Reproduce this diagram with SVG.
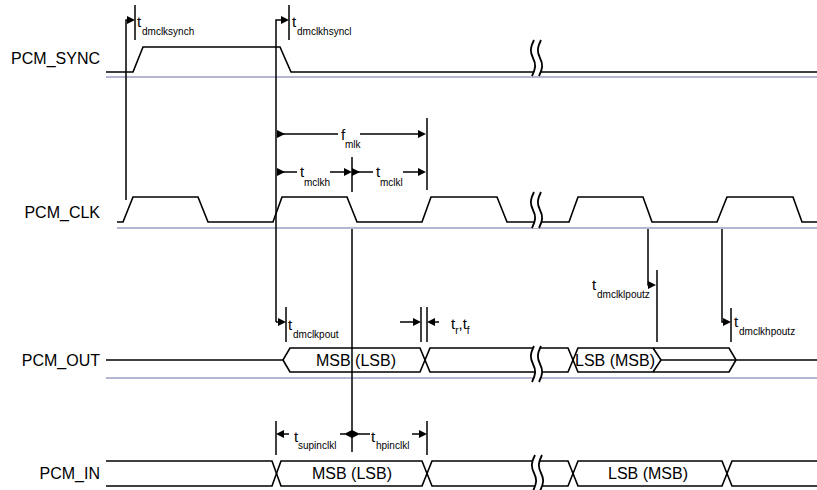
<svg xmlns="http://www.w3.org/2000/svg" xmlns:xlink="http://www.w3.org/1999/xlink" width="817" height="490" viewBox="0 0 817 490">
<style>
.sig{fill:none;stroke:#000;stroke-width:1.6;stroke-linejoin:miter}
.base{fill:none;stroke:#9c9cc6;stroke-width:1.5}
.ln{fill:none;stroke:#000;stroke-width:1.5}
.ah{fill:#000;stroke:none}
.lbl{font-family:"Liberation Sans",Arial,sans-serif;font-size:16px;fill:#000}
.t{font-family:"Liberation Sans",Arial,sans-serif;font-size:15px;fill:#000}
.s{font-family:"Liberation Sans",Arial,sans-serif;font-size:10px;fill:#000}
.bus{font-family:"Liberation Sans",Arial,sans-serif;font-size:16px;fill:#000;text-anchor:middle}
.bw{fill:#fff;stroke:none}
.bc{fill:none;stroke:#000;stroke-width:1.8}
</style>
<defs>
<g id="brk">
<path class="bw" d="M3,0 C-1,8 -1,12 2,18 C5,24 5,28 1,36 L8,36 C12,28 12,24 9,18 C6,12 6,8 10,0 Z"/>
<path class="bc" d="M3,0 C-1,8 -1,12 2,18 C5,24 5,28 1,36"/>
<path class="bc" d="M10,0 C6,8 6,12 9,18 C12,24 12,28 8,36"/>
</g>
</defs>

<g id="pcm_sync">
<text class="lbl" x="100" y="64" text-anchor="end">PCM_SYNC</text>
<line class="base" x1="106" y1="77" x2="817" y2="77"/>
<path class="sig" d="M106,72 H133 L143,47 H280 L291,72 H817"/>
<use xlink:href="#brk" href="#brk" x="531" y="40"/>
</g>

<g id="pcm_clk">
<text class="lbl" x="100" y="218" text-anchor="end">PCM_CLK</text>
<line class="base" x1="117" y1="228" x2="817" y2="228"/>
<path class="sig" d="M117,222 H123 L133,197 H198 L208,222 H273 L282,197 H347 L357,222 H422 L431,197 H497 L507,222 H569 L578,197 H643 L652,222 H717 L727,197 H793 L802,222 H817"/>
<use xlink:href="#brk" href="#brk" x="531" y="192"/>
</g>

<g id="pcm_out">
<text class="lbl" x="100" y="366" text-anchor="end">PCM_OUT</text>
<line class="base" x1="106" y1="378" x2="817" y2="378"/>
<path class="sig" d="M106,360 H283 L290,348 H420 L430,372 H568 L578,348 H729 L736,360 H817"/>
<path class="sig" d="M283,360 L290,372 H420 L430,348 H568 L578,372 H729 L736,360"/>
<path class="sig" d="M653,348 L661,360 L653,372 M661,360 H736"/>
<text class="bus" x="356" y="366">MSB (LSB)</text>
<text class="bus" x="615" y="366">LSB (MSB)</text>
<use xlink:href="#brk" href="#brk" x="531" y="346"/>
</g>

<g id="pcm_in">
<text class="lbl" x="100" y="479" text-anchor="end">PCM_IN</text>
<path class="sig" d="M106,461 H272 L281,486 H422 L432,461 H568 L578,486 H722 L732,461 H817"/>
<path class="sig" d="M106,486 H272 L281,461 H422 L432,486 H568 L578,461 H722 L732,486 H817"/>
<text class="bus" x="352" y="479">MSB (LSB)</text>
<text class="bus" x="648" y="479">LSB (MSB)</text>
<use xlink:href="#brk" href="#brk" x="532" y="455"/>
</g>

<g id="connectors">
<path class="ln" d="M126,200 V20 H128"/>
<polygon class="ah" points="127,16 135,20 127,24"/>
<line class="ln" x1="135" y1="5" x2="135" y2="40"/>
<path class="ln" d="M276,322 V20 H281"/>
<polygon class="ah" points="281,16 289,20 281,24"/>
<line class="ln" x1="289" y1="5" x2="289" y2="40"/>
<line class="ln" x1="277" y1="134" x2="338" y2="134"/>
<polygon class="ah" points="277,130 285,134 277,138"/>
<line class="ln" x1="360" y1="134" x2="420" y2="134"/>
<polygon class="ah" points="418,130 426,134 418,138"/>
<line class="ln" x1="427" y1="118" x2="427" y2="190"/>
<line class="ln" x1="277" y1="172" x2="297" y2="172"/>
<polygon class="ah" points="277,168 285,172 277,176"/>
<line class="ln" x1="330" y1="172" x2="346" y2="172"/>
<polygon class="ah" points="344,168 352,172 344,176"/>
<line class="ln" x1="352" y1="157" x2="352" y2="192"/>
<line class="ln" x1="352" y1="172" x2="373" y2="172"/>
<polygon class="ah" points="352,168 360,172 352,176"/>
<line class="ln" x1="403" y1="172" x2="420" y2="172"/>
<polygon class="ah" points="418,168 426,172 418,176"/>
<line class="ln" x1="352" y1="229" x2="352" y2="452"/>
<line class="ln" x1="276" y1="322" x2="279" y2="322"/>
<polygon class="ah" points="278,318 286,322 278,326"/>
<line class="ln" x1="286" y1="307" x2="286" y2="342"/>
<line class="ln" x1="400" y1="322" x2="415" y2="322"/>
<polygon class="ah" points="413,318 421,322 413,326"/>
<line class="ln" x1="421" y1="307" x2="421" y2="342"/>
<line class="ln" x1="427" y1="307" x2="427" y2="342"/>
<polygon class="ah" points="435,318 427,322 435,326"/>
<line class="ln" x1="433" y1="322" x2="439" y2="322"/>
<path class="ln" d="M648,229 V285 H650"/>
<polygon class="ah" points="648,281 656,285 648,289"/>
<line class="ln" x1="657" y1="270" x2="657" y2="342"/>
<path class="ln" d="M722,229 V322 H725"/>
<polygon class="ah" points="723,318 731,322 723,326"/>
<line class="ln" x1="731" y1="308" x2="731" y2="342"/>
<line class="ln" x1="276" y1="421" x2="276" y2="455"/>
<polygon class="ah" points="284,430 276,434 284,438"/>
<line class="ln" x1="282" y1="434" x2="289" y2="434"/>
<line class="ln" x1="340" y1="434" x2="345" y2="434"/>
<polygon class="ah" points="344,434 352,430 360,434 352,438"/>
<line class="ln" x1="359" y1="434" x2="370" y2="434"/>
<line class="ln" x1="412" y1="434" x2="421" y2="434"/>
<polygon class="ah" points="419,430 427,434 419,438"/>
<line class="ln" x1="427" y1="421" x2="427" y2="455"/>
</g>

<g id="labels">
<text class="t" x="137" y="27">t</text><text class="s" x="142" y="35">dmclksynch</text>
<text class="t" x="292" y="27">t</text><text class="s" x="297" y="35">dmclkhsyncl</text>
<text class="t" x="341" y="140">f</text><text class="s" x="345" y="148">mlk</text>
<text class="t" x="300" y="177">t</text><text class="s" x="304" y="186">mclkh</text>
<text class="t" x="376" y="177">t</text><text class="s" x="380" y="186">mclkl</text>
<text class="t" x="288" y="330">t</text><text class="s" x="293" y="338">dmclkpout</text>
<text class="t" x="451" y="329">t<tspan class="s" dy="5">r</tspan><tspan dy="-5">,t</tspan><tspan class="s" dy="5">f</tspan></text>
<text class="t" x="592" y="290">t</text><text class="s" x="597" y="298">dmclklpoutz</text>
<text class="t" x="734" y="327">t</text><text class="s" x="739" y="335">dmclkhpoutz</text>
<text class="t" x="294" y="442">t</text><text class="s" x="298" y="449">supinclkl</text>
<text class="t" x="371" y="442">t</text><text class="s" x="376" y="449">hpinclkl</text>
</g>
</svg>
